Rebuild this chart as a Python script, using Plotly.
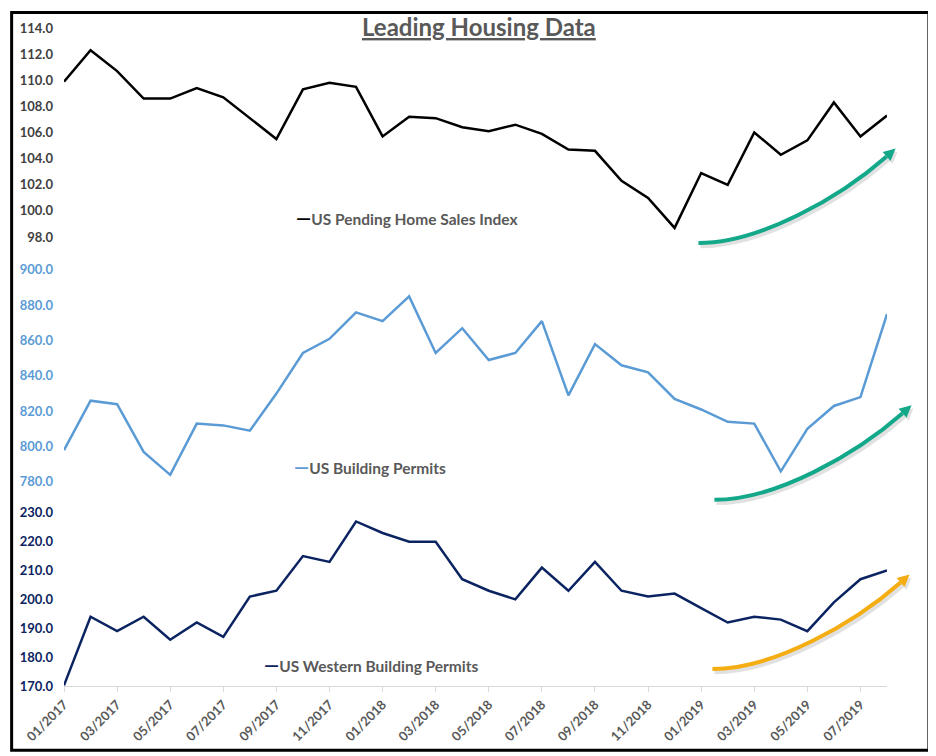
import plotly.graph_objects as go

# ---------------- data ----------------
months = ["01/2017", "02/2017", "03/2017", "04/2017", "05/2017", "06/2017",
          "07/2017", "08/2017", "09/2017", "10/2017", "11/2017", "12/2017",
          "01/2018", "02/2018", "03/2018", "04/2018", "05/2018", "06/2018",
          "07/2018", "08/2018", "09/2018", "10/2018", "11/2018", "12/2018",
          "01/2019", "02/2019", "03/2019", "04/2019", "05/2019", "06/2019",
          "07/2019", "08/2019"]
tick_months = ["01/2017", "03/2017", "05/2017", "07/2017", "09/2017", "11/2017",
               "01/2018", "03/2018", "05/2018", "07/2018", "09/2018", "11/2018",
               "01/2019", "03/2019", "05/2019", "07/2019"]

pending_home_sales = [109.9, 112.3, 110.7, 108.6, 108.6, 109.4, 108.7, 107.1,
                      105.5, 109.3, 109.8, 109.5, 105.7, 107.2, 107.1, 106.4,
                      106.1, 106.6, 105.9, 104.7, 104.6, 102.3, 101.0, 98.7,
                      102.9, 102.0, 106.0, 104.3, 105.4, 108.3, 105.7, 107.3]
building_permits = [798, 826, 824, 797, 784, 813, 812, 809,
                    830, 853, 861, 876, 871, 885, 853, 867,
                    849, 853, 871, 829, 858, 846, 842, 827,
                    821, 814, 813, 786, 810, 823, 828, 875]
western_permits = [170.2, 194, 189, 194, 186, 192, 187, 201,
                   203, 215, 213, 227, 223, 220, 220, 207,
                   203, 200, 211, 203, 213, 203, 201, 202,
                   197, 192, 194, 193, 189, 199, 207, 210]

series_names = ["US Pending Home Sales Index", "US Building Permits",
                "US Western Building Permits"]
series_colors = ["#000000", "#5B9BD5", "#0B2461"]
tick_colors = ["#404040", "#5B9BD5", "#0B2461"]

FONT = "Lato"
OFF = 8                      # page body margin of the browser
W, H = 936 - OFF, 756 - OFF  # figure size
L, R, T, B = 62, 887, 25, 686   # plot area in window pixels


def px(x):
    return (x - L) / (R - L)


def py(y):
    return (B - y) / (B - T)


fig = go.Figure()
for vals, name, col, ya in zip(
        [pending_home_sales, building_permits, western_permits],
        series_names, series_colors, ["y", "y2", "y3"]):
    fig.add_trace(go.Scatter(x=months, y=vals, mode="lines", name=name,
                             line=dict(color=col, width=2.5),
                             xaxis="x", yaxis=ya, showlegend=False))

yfont = dict(family=FONT, size=13, color="#404040", weight="bold")
common_y = dict(showgrid=False, zeroline=False, showline=False,
                tickformat=".1f", ticks="", ticklabelstandoff=10,
                anchor="x", fixedrange=True)

fig.update_layout(
    width=W, height=H,
    margin=dict(l=L - OFF, r=W - (R - OFF), t=T - OFF, b=H - (B - OFF)),
    paper_bgcolor="white", plot_bgcolor="white",
    showlegend=False,
    font=dict(family=FONT),
    xaxis=dict(type="category", categoryorder="array", categoryarray=months,
               range=[0, len(months) - 1], anchor="y3",
               tickmode="array", tickvals=tick_months, ticktext=tick_months,
               tickangle=-45, ticks="outside", ticklen=5, tickcolor="#D9D9D9",
               showline=True, linecolor="#D9D9D9", linewidth=1,
               showgrid=False, zeroline=False,
               tickfont=dict(family=FONT, size=13, color="#595959", weight="bold")),
    yaxis=dict(domain=[py(235), 1.0], range=[98, 114], dtick=2,
               tickfont=dict(yfont, color=tick_colors[0]), **common_y),
    yaxis2=dict(domain=[py(481), py(268)], range=[780, 900], dtick=20,
                tickfont=dict(yfont, color=tick_colors[1]), **common_y),
    yaxis3=dict(domain=[0, py(512)], range=[170, 230], dtick=10,
                tickfont=dict(yfont, color=tick_colors[2]), **common_y),
)

# ---------------- text ----------------
fig.add_annotation(text="<b><u>Leading Housing Data</u></b>", xref="paper", yref="paper",
                   x=px(478), y=py(23), xanchor="center", yanchor="middle",
                   showarrow=False, font=dict(family=FONT, size=24, color="#595959"))

legend_pos = [(293, 215), (291, 465), (260, 664)]
for name, col, (lx, ly) in zip(series_names, series_colors, legend_pos):
    fig.add_annotation(text=f"<span style='color:{col};font-size:19px'>—</span>{name}",
                       xref="paper", yref="paper", x=px(lx), y=py(ly),
                       xanchor="left", yanchor="middle", showarrow=False,
                       font=dict(family=FONT, size=15.5, color="#595959", weight="bold"))

# ---------------- decorative curved arrows ----------------
base = [(698, 241), (760, 241), (840, 195), (886.6, 154)]
arrow_offsets = [(0, 0), (16, 258), (14, 428)]
arrow_colors = ["#14A88A", "#14A88A", "#F4AE13"]


def bez_path(pts):
    p = [(px(x), py(y)) for x, y in pts]
    return (f"M {p[0][0]},{p[0][1]} C {p[1][0]},{p[1][1]} "
            f"{p[2][0]},{p[2][1]} {p[3][0]},{p[3][1]}")


def head_path(p2, p3, length=12, half=6):
    dx, dy = p3[0] - p2[0], p3[1] - p2[1]
    n = (dx * dx + dy * dy) ** 0.5
    dx, dy = dx / n, dy / n
    tip = (p3[0] + dx * length, p3[1] + dy * length)
    c1 = (p3[0] - dy * half, p3[1] + dx * half)
    c2 = (p3[0] + dy * half, p3[1] - dx * half)
    pts = [(px(x), py(y)) for x, y in [tip, c1, c2]]
    return f"M {pts[0][0]},{pts[0][1]} L {pts[1][0]},{pts[1][1]} L {pts[2][0]},{pts[2][1]} Z"


for (ox, oy), col in zip(arrow_offsets, arrow_colors):
    pts = [(x + ox, y + oy) for x, y in base]
    shadow = [(x + 2, y + 3) for x, y in pts]
    fig.add_shape(type="path", xref="paper", yref="paper", path=bez_path(shadow),
                  line=dict(color="rgba(90,90,90,0.18)", width=4.5))
    fig.add_shape(type="path", xref="paper", yref="paper",
                  path=head_path(shadow[2], shadow[3]),
                  fillcolor="rgba(90,90,90,0.18)", line=dict(width=0))
    fig.add_shape(type="path", xref="paper", yref="paper", path=bez_path(pts),
                  line=dict(color=col, width=4))
    fig.add_shape(type="path", xref="paper", yref="paper",
                  path=head_path(pts[2], pts[3]),
                  fillcolor=col, line=dict(width=0))

# ---------------- outer border (kept inside the figure) ----------------
fig.add_shape(type="rect", xref="paper", yref="paper",
              x0=px(OFF + 1.5), x1=px(929), y0=py(750.5), y1=py(OFF + 1.5),
              line=dict(color="black", width=3), fillcolor="rgba(0,0,0,0)")

fig.write_html("out.html")
